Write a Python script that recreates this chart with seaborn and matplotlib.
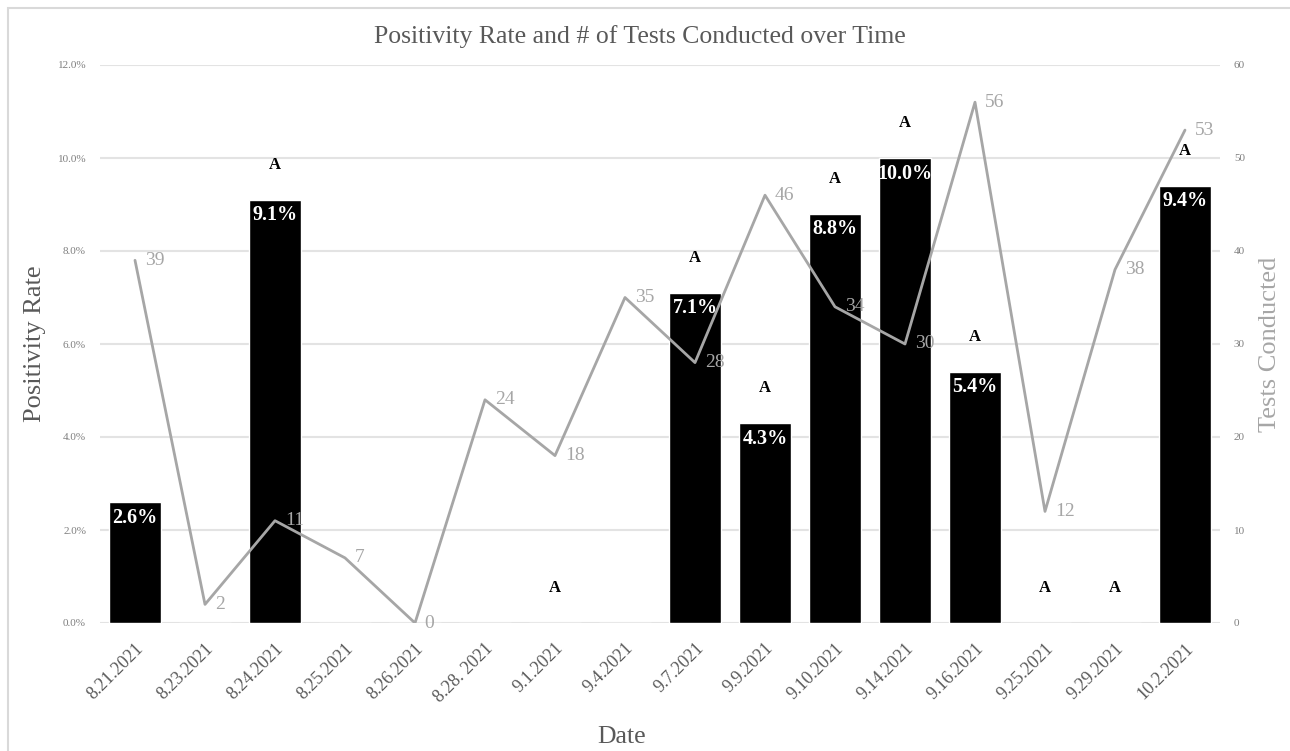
import numpy as np
import pandas as pd
import matplotlib
matplotlib.use("Agg")
import matplotlib.pyplot as plt
from matplotlib.patches import Rectangle
import seaborn as sns

dates = ["8.21.2021", "8.23.2021", "8.24.2021", "8.25.2021", "8.26.2021",
         "8.28. 2021", "9.1.2021", "9.4.2021", "9.7.2021", "9.9.2021",
         "9.10.2021", "9.14.2021", "9.16.2021", "9.25.2021", "9.29.2021",
         "10.2.2021"]
positivity = [2.6, 0.0, 9.1, 0.0, 0.0, 0.0, 0.0, 0.0, 7.1, 4.3, 8.8, 10.0,
              5.4, 0.0, 0.0, 9.4]
tests = [39, 2, 11, 7, 0, 24, 18, 35, 28, 46, 34, 30, 56, 12, 38, 53]
group_letters = ["", "", "A", "", "", "", "A", "", "A", "A", "A", "A", "A",
                 "A", "A", "A"]

sns.set_theme(style="white")
plt.rcParams["font.family"] = ["Liberation Serif", "DejaVu Serif"]

DARK = "#595959"
LIGHT = "#A6A6A6"
GRID = "#E3E3E3"

df = pd.DataFrame({"date": dates, "rate": np.array(positivity) / 100.0,
                   "tests": tests, "idx": np.arange(len(dates))})

fig = plt.figure(figsize=(12.9, 7.51), dpi=100)
ax = fig.add_axes([100 / 1290, 1 - 623 / 751, 1120 / 1290, 558 / 751])

sns.barplot(data=df, x="date", y="rate", color="black", width=0.74,
            saturation=1, ax=ax, zorder=2)
ax.set_ylim(0, 0.12)
ax.set_xlim(-0.5, 15.5)
ax.set_yticks(np.arange(0, 0.121, 0.02))
ax.set_yticklabels([f"{v * 100:.1f}%" for v in np.arange(0, 0.121, 0.02)],
                   fontsize=8, color="#7F7F7F")
for y in np.arange(0, 0.121, 0.02):
    ax.axhline(y, color=GRID, lw=1.5, zorder=0)
ax.set_xticks(range(len(dates)))
ax.set_xticklabels(dates, rotation=45, ha="right", rotation_mode="anchor",
                   fontsize=13, color=DARK)
ax.tick_params(axis="x", length=0, pad=12)
ax.tick_params(axis="y", length=0, pad=10)
for s in ax.spines.values():
    s.set_visible(False)
ax.set_xlabel("Date", fontsize=18.5, color=DARK)
ax.xaxis.set_label_coords((622 - 100) / 1120, -(737 - 623) / 558)
ax.xaxis.label.set_va("center")
ax.set_ylabel("Positivity Rate", fontsize=19, color=DARK, labelpad=8)

# Bar value labels and group letters
for i, (r, g) in enumerate(zip(positivity, group_letters)):
    if r > 0:
        ax.text(i, r / 100 - 0.0012, f"{r:.1f}%", ha="center", va="top",
                color="white", fontsize=14.5, fontweight="bold", zorder=5)
    if g:
        ax.text(i, r / 100 + 0.0075, g, ha="center", va="center",
                color="black", fontsize=12, fontweight="bold", zorder=5)

ax2 = ax.twinx()
sns.lineplot(data=df, x="idx", y="tests", color=LIGHT, lw=2.0, ax=ax2,
             zorder=3)
ax2.set_ylim(0, 60)
ax2.set_xlim(-0.5, 15.5)
ax2.set_yticks(range(0, 61, 10))
ax2.set_yticklabels([str(v) for v in range(0, 61, 10)], fontsize=8,
                    color="#7F7F7F")
ax2.tick_params(axis="y", length=0, pad=10)
for s in ax2.spines.values():
    s.set_visible(False)
ax2.set_xlabel("")
ax2.set_ylabel("Tests Conducted", fontsize=19, color=LIGHT, labelpad=10)
for i, t in enumerate(tests):
    ax2.annotate(str(t), (i, t), xytext=(7, 0), textcoords="offset points",
                 ha="left", va="center", fontsize=14, color=LIGHT, zorder=6)

ax.set_zorder(ax2.get_zorder() - 1)
ax.patch.set_visible(False)

fig.suptitle("Positivity Rate and # of Tests Conducted over Time",
             x=640 / 1290, y=1 - 37 / 751, va="center", fontsize=18.5,
             color=DARK)

# Chart border
fig.patches.append(Rectangle((8 / 1290, -0.05), 1.2, 1 - 8 / 751 + 0.05,
                             transform=fig.transFigure, fill=False,
                             edgecolor="#D9D9D9", lw=1.5))

fig.savefig("out.png", dpi=100)
